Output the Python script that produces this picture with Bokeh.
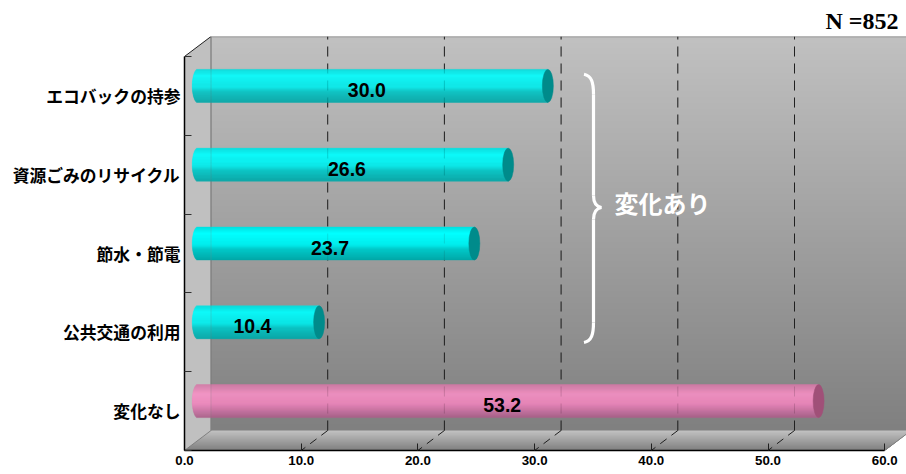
from bokeh.plotting import figure
from bokeh.models import FixedTicker, Label, Title
from bokeh.core.properties import value
from bokeh.embed import file_html
from bokeh.resources import INLINE

categories = ["エコバックの持参", "資源ごみのリサイクル", "節水・節電", "公共交通の利用", "変化なし"]
values = [30.0, 26.6, 23.7, 10.4, 53.2]
x_ticks = [0, 10, 20, 30, 40, 50, 60]
x_labels = ["0.0", "10.0", "20.0", "30.0", "40.0", "50.0", "60.0"]
note = "N =852"
group_label = "変化あり"

CYAN = [(0, (0, 224, 224)), (.2, (0, 255, 255)), (.55, (0, 236, 236)), (.68, (0, 200, 200)), (1, (0, 168, 168))]
PINK = [(0, (210, 120, 165)), (.3, (248, 145, 198)), (.6, (238, 132, 188)), (1, (170, 95, 138))]
CAP_CYAN, CAP_PINK = "#008b8b", "#a05078"
ramps = [CYAN, CYAN, CYAN, CYAN, PINK]
caps = [CAP_CYAN, CAP_CYAN, CAP_CYAN, CAP_CYAN, CAP_PINK]

# scale: pixels per data unit
SX, SY = 11.67, 78.8
DX, DY = 26.5 / SX, 20 / SY      # depth of the 3-D box
XMAX = 722 / SX
YMAX = 5 + DY
BAR_H = 33 / SY
CAP_W = 11 / SX


def mix(ramp, t):
    for (a, ca), (b, cb) in zip(ramp, ramp[1:]):
        if t <= b:
            f = (t - a) / (b - a)
            return tuple(round(p + (q - p) * f) for p, q in zip(ca, cb))
    return ramp[-1][1]


def hexc(c):
    return "#%02x%02x%02x" % tuple(c)


p = figure(width=906, height=474, output_backend="svg", toolbar_location=None,
           x_range=(0, XMAX), y_range=(0, YMAX),
           min_border_left=184, min_border_right=0, min_border_top=36, min_border_bottom=24)
p.grid.visible = False
p.outline_line_color = None
p.background_fill_color = "white"
p.border_fill_color = "white"

WALL = [(0, (192, 192, 192)), (1, (128, 128, 128))]
N = 65
# back wall gradient: each strip runs to the bottom and is overpainted by the next
p.quad(left=[DX] * N, right=[XMAX + 1] * N,
       top=[YMAX - 5 * i / N for i in range(N)],
       bottom=[DY] * N,
       fill_color=[hexc(mix(WALL, i / (N - 1))) for i in range(N)],
       line_color=None)
# floor gradient, painted the same way
xs, ys, cs = [], [], []
M = 20
for i in range(M):
    t0 = i / M
    y0 = DY * (1 - t0)
    x0 = DX * (1 - t0)
    xs.append([x0, 60 + x0, 60, 0])
    ys.append([y0, y0, 0, 0])
    cs.append(hexc(mix(WALL, i / (M - 1))))
p.patches(xs, ys, fill_color=cs, line_color=None)
# left wall
p.patch([0, DX, DX, 0], [0, DY, YMAX, 5], fill_color="#c0c0c0", line_color=None)

EDGE = "#7f7f7f"
p.line([DX, DX], [DY, YMAX], line_color=EDGE, line_width=1.2)
p.line([DX, XMAX], [YMAX, YMAX], line_color=EDGE, line_width=1.5)
p.line([0, DX], [5, YMAX], line_color="#202020", line_width=1)
p.line([0, DX], [0, DY], line_color=EDGE, line_width=1)
p.line([60, 60 + DX], [0, DY], line_color=EDGE, line_width=1)

grid_ticks = x_ticks[1:-1]
DASH = "10 7"
grid_xs = [[t + DX, t + DX] for t in grid_ticks]
grid_ys = [[DY, YMAX] for t in grid_ticks]
p.multi_line(grid_xs, grid_ys, line_color="#202020", line_width=1, line_dash=DASH)
p.multi_line([[t + DX, t] for t in grid_ticks], [[DY, 0] for t in grid_ticks],
             line_color="#202020", line_width=1, line_dash="8 6")

# cylinders
S = 33
for i, (v, ramp, cap) in enumerate(zip(values, ramps, caps)):
    yc = 5 - i - 0.5 + DY / 2
    x0 = DX / 2
    left, right, top, bottom, col = [], [], [], [], []
    for k in range(S):
        t = (k + .5) / S
        bulge = (CAP_W / 2) * (1 - (2 * t - 1) ** 2) ** .5
        left.append(x0 - bulge)
        right.append(x0 + v)
        top.append(yc + BAR_H / 2 - BAR_H * k / S)
        bottom.append(yc + BAR_H / 2 - BAR_H * (k + 1) / S)
        col.append(hexc(mix(ramp, t)))
    p.quad(left=left, right=right, top=top, bottom=bottom, fill_color=col, line_color=col, line_width=0.4)
    p.ellipse(x=[x0 + v], y=[yc], width=CAP_W, height=BAR_H, fill_color=cap, line_color=cap, line_width=0.5)

# grid and wall edge showing faintly through the bars
p.multi_line(grid_xs, grid_ys, line_color="#202020", line_width=1, line_dash=DASH, line_alpha=0.12)
p.line([DX, DX], [DY, YMAX], line_color=EDGE, line_width=1, line_alpha=0.25)

# value labels
p.text(x=[DX / 2 + v / 2 for v in values], y=[5 - i - 0.5 + DY / 2 for i in range(5)],
       text=["%.1f" % v for v in values], text_align="center", text_baseline="middle",
       text_font=value("Liberation Sans"), text_font_style="bold", text_font_size="19.5px",
       text_color="black", x_offset=-6, y_offset=4)

# brace spanning the first four categories
BX = 399.5 / SX
bw = 9.5 / SX
tip = 8 / SX
top_y, bot_y = 4.775, 1.371
mid_y = 3.084
r = 20 / SY
for (y0, y1, yc1, yc2) in [(top_y, top_y - r, top_y - 0.02, top_y - r * .4),
                           (bot_y, bot_y + r, bot_y + 0.02, bot_y + r * .4)]:
    p.bezier(x0=[BX], y0=[y0], x1=[BX + bw], y1=[y1], cx0=[BX + bw * .8], cy0=[yc1], cx1=[BX + bw], cy1=[yc2],
             line_color="white", line_width=3.2)
p.line([BX + bw, BX + bw], [top_y - r, mid_y + r * .6], line_color="white", line_width=3.2)
p.line([BX + bw, BX + bw], [bot_y + r, mid_y - r * .6], line_color="white", line_width=3.2)
for s in (1, -1):
    p.bezier(x0=[BX + bw], y0=[mid_y + s * r * .6], x1=[BX + bw + tip], y1=[mid_y],
             cx0=[BX + bw], cy0=[mid_y + s * r * .2], cx1=[BX + bw + tip * .4], cy1=[mid_y + s * .01],
             line_color="white", line_width=3.2)
p.add_layout(Label(x=(662 - 184) / SX, y=YMAX - (202 - 36) / SY, text=group_label, text_align="center", text_baseline="middle",
                   text_font="Noto Sans CJK JP", text_font_style="bold", text_font_size="24px", text_color="white"))
p.add_layout(Title(text=note, align="right", offset=8, standoff=6,
                   text_font="Liberation Serif", text_font_style="bold", text_font_size="24px", text_color="black"), "above")

# axes
xa = p.xaxis[0]
xa.ticker = FixedTicker(ticks=x_ticks)
xa.major_label_overrides = dict(zip(x_ticks, x_labels))
xa.bounds = (0, 60)
xa.axis_line_color = "black"
xa.axis_line_width = 1.5
xa.major_tick_in = 7
xa.major_tick_out = 0
xa.major_tick_line_color = "#202020"
xa.minor_tick_line_color = None
xa.major_label_standoff = 5
xa.major_label_text_font = "Liberation Sans"
xa.major_label_text_font_style = "bold"
xa.major_label_text_font_size = "13.3px"
xa.major_label_text_color = "black"

centers = [5 - i - 0.5 for i in range(5)]
ya = p.yaxis[0]
ya.ticker = FixedTicker(ticks=centers, minor_ticks=[0, 1, 2, 3, 4, 5])
ya.major_label_overrides = dict(zip(centers, categories))
ya.bounds = (0, 5)
ya.axis_line_color = "black"
ya.axis_line_width = 1.5
ya.major_tick_line_color = None
ya.major_tick_in = 0
ya.major_tick_out = 0
ya.minor_tick_in = 7
ya.minor_tick_out = 0
ya.minor_tick_line_color = "#303030"
ya.major_label_standoff = 4
ya.major_label_text_font = "Noto Sans CJK JP"
ya.major_label_text_font_style = "bold"
ya.major_label_text_font_size = "16.8px"
ya.major_label_text_color = "black"

open("out.html", "w").write(file_html(p, INLINE))
